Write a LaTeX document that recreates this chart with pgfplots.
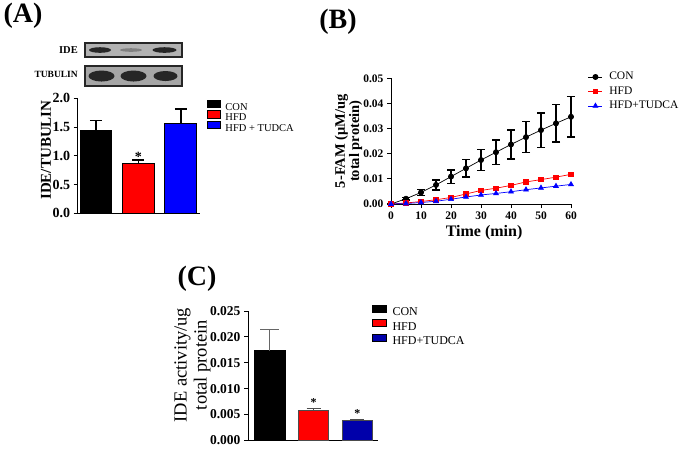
\documentclass[border=0pt]{standalone}
\usepackage{pgfplots}
\pgfplotsset{compat=1.18}
\usepackage{fontspec}
\setmainfont{Liberation Serif}
\definecolor{cblue}{RGB}{0,0,255}
\definecolor{cnavy}{RGB}{0,0,170}
\definecolor{cred}{RGB}{255,0,0}

\pgfplotsset{
  gp/.style={
    scale only axis,
    anchor=south west,
    axis lines=left,
    axis line style={-, line width=1pt},
    tick align=outside,
    major tick length=4pt,
    tick style={line width=1pt, black},
    /pgf/number format/assume math mode=true,
    tick label style={font=\bfseries\fontsize{11.5}{12}\selectfont},
    scaled y ticks=false,
    clip=false,
    legend cell align=left,
  },
  barleg/.style={
    legend image code/.code={\draw[##1,draw=black,line width=0.8pt] (0pt,-0.5pt) rectangle (13pt,7pt);},
  },
  barlegc/.style={
    legend image code/.code={\draw[##1,draw=black,line width=0.8pt] (0pt,0pt) rectangle (14pt,7pt);},
  },
  lineleg/.style={
    legend image code/.code={\draw[mark repeat=2,mark phase=2,##1] plot coordinates {(0pt,0pt) (7pt,0pt) (14pt,0pt)};},
  },
}

\begin{document}
\begin{tikzpicture}[x=1pt,y=1pt]
\path (0,0) rectangle (685,446);

% panel letters
\node[font=\bfseries\fontsize{28}{30}\selectfont] at (23,430) {(A)};
\node[font=\bfseries\fontsize{28}{30}\selectfont] at (338,424) {(B)};
\node[font=\bfseries\fontsize{28}{30}\selectfont] at (197,167) {(C)};

% western blot strips (decoration)
\fill[black!85] (84,388) rectangle (183,404);
\fill[black!30] (86,390) rectangle (181,402);
\fill[black!85] (100,396) ellipse (11 and 2.8);
\fill[black!50] (131,396) ellipse (11 and 1.8);
\fill[black!85] (164.5,396) ellipse (12 and 2.8);
\fill[black!85] (84,359) rectangle (183,381);
\fill[black!35] (86,361) rectangle (181,379);
\fill[black!85] (101.5,370) ellipse (13 and 5.5);
\fill[black!85] (133.5,370) ellipse (13 and 5.5);
\fill[black!85] (165.5,370) ellipse (12 and 5);
\node[anchor=east, font=\bfseries\fontsize{10.5}{11}\selectfont, inner sep=0pt] at (78,396) {IDE};
\node[anchor=east, font=\bfseries\fontsize{9.5}{10}\selectfont, inner sep=0pt] at (78,372) {TUBULIN};

% ---------------- Panel A ----------------
\begin{axis}[gp,
  at={(77.7pt,232.7pt)}, width=122.3pt, height=115pt,
  xmin=-0.43, xmax=2.45, ymin=0, ymax=2,
  xtick=\empty, ytick={0,0.5,1,1.5,2},
  yticklabel style={/pgf/number format/fixed, /pgf/number format/fixed zerofill, /pgf/number format/precision=1, font=\bfseries\fontsize{14}{14}\selectfont},
  ylabel={IDE/TUBULIN},
  ylabel style={at={(axis description cs:-0.259,0.55)}, anchor=center, font=\bfseries\fontsize{15}{16}\selectfont},
  ybar, bar shift=0pt, bar width=0.75, barleg,
  legend style={at={(axis description cs:1.057,0.99)}, anchor=north west, draw=none, fill=none, inner sep=0pt,
    font=\fontsize{10.5}{11}\selectfont, row sep=-1.5pt, column sep=4pt,
    nodes={inner sep=0.5pt, text height=7.5pt, text depth=1pt}},
]
\addplot[fill=black, draw=black, line width=1pt,
  error bars/.cd, y dir=plus, y explicit, error bar style={line width=1.5pt, black},
  error mark options={rotate=90, mark size=6pt, line width=1.5pt, black}]
  coordinates {(0,1.44) +- (0,0.17)};
\addplot[fill=cred, draw=black, line width=1pt,
  error bars/.cd, y dir=plus, y explicit, error bar style={line width=1.5pt, black},
  error mark options={rotate=90, mark size=6pt, line width=1.5pt, black}]
  coordinates {(1,0.86) +- (0,0.07)};
\addplot[fill=cblue, draw=black, line width=1pt,
  error bars/.cd, y dir=plus, y explicit, error bar style={line width=1.5pt, black},
  error mark options={rotate=90, mark size=6pt, line width=1.5pt, black}]
  coordinates {(2,1.57) +- (0,0.24)};
\legend{CON, HFD, HFD + TUDCA}
\node[font=\bfseries\fontsize{14}{14}\selectfont, inner sep=0pt] at (axis cs:1,0.98) {*};
\end{axis}

% ---------------- Panel B ----------------
\begin{axis}[gp, lineleg,
  at={(391pt,242pt)}, width=180pt, height=125.7pt,
  xmin=0, xmax=60, ymin=0, ymax=0.05,
  xtick={0,10,20,30,40,50,60}, ytick={0,0.01,0.02,0.03,0.04,0.05},
  yticklabel style={/pgf/number format/fixed, /pgf/number format/fixed zerofill, /pgf/number format/precision=2},
  xlabel={Time (min)},
  xlabel style={at={(axis description cs:0.517,-0.231)}, anchor=center, font=\bfseries\fontsize{16}{17}\selectfont},
  ylabel={5-FAM (μM/ug\\total protein)},
  ylabel style={at={(axis description cs:-0.236,0.5)}, anchor=center, align=center, font=\bfseries\fontsize{14.5}{13}\selectfont},
  legend style={at={(axis description cs:1.094,1.07)}, anchor=north west, draw=none, fill=none, inner sep=0pt,
    font=\fontsize{11.5}{12}\selectfont, row sep=0pt, column sep=6pt,
    nodes={inner sep=0.5pt, text height=9.5pt, text depth=4pt}},
]
\addplot[black, line width=0.7pt, mark=*, mark size=2.6pt, mark options={solid},
  error bars/.cd, y dir=both, y explicit, error bar style={line width=1.5pt, black},
  error mark options={rotate=90, mark size=4pt, line width=1.5pt, black}]
  coordinates {
  (0,0) +- (0,0)
  (5,0.0021) +- (0,0.0004)
  (10,0.0046) +- (0,0.0012)
  (15,0.0076) +- (0,0.0020)
  (20,0.0109) +- (0,0.0027)
  (25,0.0142) +- (0,0.0035)
  (30,0.0175) +- (0,0.0042)
  (35,0.0206) +- (0,0.0048)
  (40,0.0237) +- (0,0.0058)
  (45,0.0266) +- (0,0.0062)
  (50,0.0294) +- (0,0.0069)
  (55,0.0321) +- (0,0.0075)
  (60,0.0347) +- (0,0.0081)
  };
\addplot[cred, line width=0.7pt, mark=square*, mark size=2.2pt, mark options={solid}]
  coordinates {
  (0,0) (5,0.0004) (10,0.0010) (15,0.0017) (20,0.0026) (25,0.0040) (30,0.0054)
  (35,0.0063) (40,0.0074) (45,0.0088) (50,0.0097) (55,0.0107) (60,0.0118)
  };
\addplot[cblue, line width=0.7pt, mark=triangle*, mark size=2.8pt, mark options={solid}]
  coordinates {
  (0,0) (5,0.0002) (10,0.0006) (15,0.0011) (20,0.0019) (25,0.0028) (30,0.0036)
  (35,0.0042) (40,0.0049) (45,0.0057) (50,0.0064) (55,0.0071) (60,0.0078)
  };
\legend{CON, HFD, HFD+TUDCA}
\end{axis}

% ---------------- Panel C ----------------
\begin{axis}[gp,
  at={(248pt,5.7pt)}, width=130pt, height=129.3pt,
  xmin=-0.503, xmax=2.47, ymin=0, ymax=0.025,
  xtick=\empty, ytick={0,0.005,0.01,0.015,0.02,0.025},
  yticklabel style={/pgf/number format/fixed, /pgf/number format/fixed zerofill, /pgf/number format/precision=3, font=\bfseries\fontsize{13.5}{14}\selectfont},
  ylabel={IDE activity/ug\\total protein},
  ylabel style={at={(axis description cs:-0.427,0.582)}, anchor=center, align=center, font=\fontsize{18.5}{20}\selectfont},
  ybar, bar shift=0pt, bar width=0.69, barlegc,
  legend style={at={(axis description cs:0.954,1.05)}, anchor=north west, draw=none, fill=none, inner sep=0pt,
    font=\fontsize{12}{12}\selectfont, row sep=0pt, column sep=5pt,
    nodes={inner sep=0.5pt, text height=10pt, text depth=3.5pt}},
]
\addplot[fill=black, draw=black, line width=1pt,
  error bars/.cd, y dir=plus, y explicit, error bar style={line width=1pt, black!60},
  error mark options={rotate=90, mark size=9.5pt, line width=1pt, black!60}]
  coordinates {(0,0.0173) +- (0,0.0042)};
\addplot[fill=cred, draw=black!70, line width=1pt,
  error bars/.cd, y dir=plus, y explicit, error bar style={line width=1pt, black!70},
  error mark options={rotate=90, mark size=7pt, line width=1pt, black!70}]
  coordinates {(1,0.0058) +- (0,0.0004)};
\addplot[fill=cnavy, draw=black!70, line width=1pt,
  error bars/.cd, y dir=plus, y explicit, error bar style={line width=1pt, black!70},
  error mark options={rotate=90, mark size=7pt, line width=1pt, black!70}]
  coordinates {(2,0.00385) +- (0,0.0002)};
\legend{CON, HFD, HFD+TUDCA}
\node[font=\bfseries\fontsize{12}{12}\selectfont, inner sep=0pt] at (axis cs:1,0.0073) {*};
\node[font=\bfseries\fontsize{12}{12}\selectfont, inner sep=0pt] at (axis cs:2,0.0051) {*};
\end{axis}
\end{tikzpicture}
\end{document}
